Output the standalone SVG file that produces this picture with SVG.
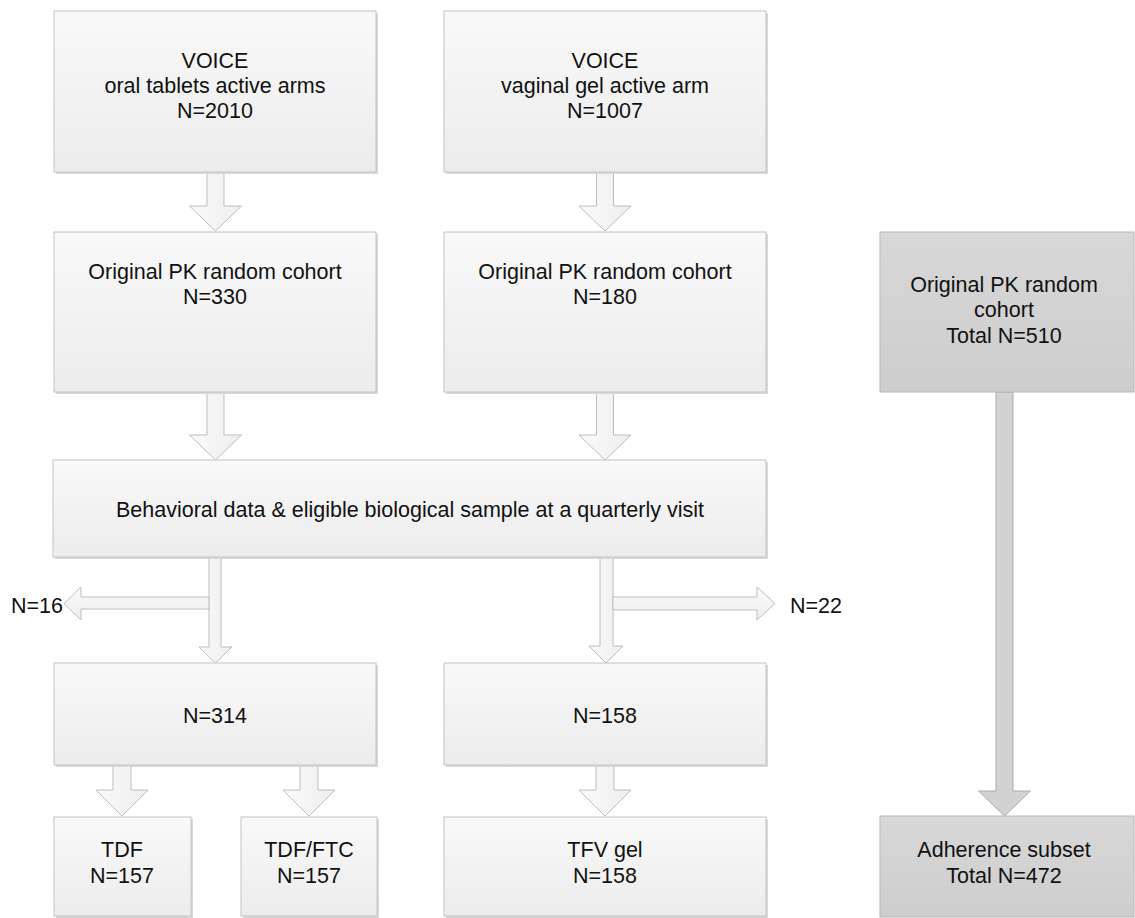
<svg xmlns="http://www.w3.org/2000/svg" width="1135" height="918" viewBox="0 0 1135 918">
<defs>
<linearGradient id="gLight" x1="0" y1="0" x2="0" y2="1">
<stop offset="0" stop-color="#f9f9f9"/>
<stop offset="1" stop-color="#ececec"/>
</linearGradient>
<linearGradient id="gGrey" x1="0" y1="0" x2="0" y2="1">
<stop offset="0" stop-color="#d8d8d8"/>
<stop offset="1" stop-color="#cdcdcd"/>
</linearGradient>
<linearGradient id="gArrow" x1="0" y1="0" x2="1" y2="0">
<stop offset="0" stop-color="#fafafa"/>
<stop offset="1" stop-color="#eeeeee"/>
</linearGradient>
<linearGradient id="gArrowH" x1="0" y1="0" x2="0" y2="1">
<stop offset="0" stop-color="#fafafa"/>
<stop offset="1" stop-color="#eeeeee"/>
</linearGradient>
</defs>
<style>
.box{fill:url(#gLight);stroke:#c4c4c4;stroke-width:1}
.gbox{fill:url(#gGrey);stroke:#b8b8b8;stroke-width:1}
.shadow{fill:#d9d9d9}
.arr{fill:url(#gArrow);stroke:#bdbdbd;stroke-width:1}
.arrh{fill:url(#gArrowH);stroke:#bdbdbd;stroke-width:1}
.garr{fill:#d2d2d2;stroke:#ababab;stroke-width:1}
text{font-family:"Liberation Sans",Arial,sans-serif;font-size:21.5px;fill:#111;text-anchor:middle}
.l{text-anchor:start}
</style>
<rect width="1135" height="918" fill="#ffffff"/>
<g id="connectors">
<polygon class="arr" points="207,172 224,172 224,206 241.5,206 215.5,231 189.5,206 207,206"/>
<polygon class="arr" points="596.5,172 613.5,172 613.5,206 631,206 605,231 579,206 596.5,206"/>
<polygon class="arr" points="207,392 224,392 224,435 241.5,435 215.5,460 189.5,435 207,435"/>
<polygon class="arr" points="596.5,392 613.5,392 613.5,435 631,435 605,460 579,435 596.5,435"/>
<polygon class="arr" points="209,557 221,557 221,647 232,647 215.5,663 199,647 209,647"/>
<polygon class="arrh" points="209,597 209,609 81,609 81,620 64,603.5 81,587 81,597"/>
<polygon class="arr" points="600,557 613,557 613,646 623,646 606,663 589,646 600,646"/>
<polygon class="arrh" points="613,597 757,597 757,587 775,603.5 757,620 757,610 613,610"/>
<polygon class="arr" points="113,765 131,765 131,790 148,790 122,816 96,790 113,790"/>
<polygon class="arr" points="300,765 318,765 318,790 335,790 309,816 283,790 300,790"/>
<polygon class="arr" points="596,765 614,765 614,790 631,790 605,816 579,790 596,790"/>
<polygon class="garr" points="996,392 1013,392 1013,791 1030.5,791 1004.5,816 978.5,791 996,791"/>
</g>
<g id="n1">
<rect class="shadow" x="56" y="13" width="322" height="161"/>
<rect class="box" x="54" y="11" width="322" height="161"/>
<text x="215" y="68">VOICE</text>
<text x="215" y="93">oral tablets active arms</text>
<text x="215" y="118">N=2010</text>
</g>
<g id="n2">
<rect class="shadow" x="446" y="13" width="322" height="161"/>
<rect class="box" x="444" y="11" width="322" height="161"/>
<text x="605" y="68">VOICE</text>
<text x="605" y="93">vaginal gel active arm</text>
<text x="605" y="118">N=1007</text>
</g>
<g id="n3">
<rect class="shadow" x="56" y="234" width="322" height="160"/>
<rect class="box" x="54" y="232" width="322" height="160"/>
<text x="215" y="279">Original PK random cohort</text>
<text x="215" y="304">N=330</text>
</g>
<g id="n4">
<rect class="shadow" x="446" y="234" width="322" height="160"/>
<rect class="box" x="444" y="232" width="322" height="160"/>
<text x="605" y="279">Original PK random cohort</text>
<text x="605" y="304">N=180</text>
</g>
<g id="n5">
<rect class="gbox" x="880" y="232" width="254" height="160"/>
<text x="1004" y="292">Original PK random</text>
<text x="1004" y="317">cohort</text>
<text x="1004" y="343">Total N=510</text>
</g>
<g id="n6">
<rect class="shadow" x="55" y="462" width="713" height="97"/>
<rect class="box" x="53" y="460" width="713" height="97"/>
<text x="410" y="517">Behavioral data &amp; eligible biological sample at a quarterly visit</text>
</g>
<g id="n7">
<text class="l" x="11" y="613">N=16</text>
</g>
<g id="n8">
<text class="l" x="790" y="613">N=22</text>
</g>
<g id="n9">
<rect class="shadow" x="56" y="665" width="322" height="102"/>
<rect class="box" x="54" y="663" width="322" height="102"/>
<text x="215" y="723">N=314</text>
</g>
<g id="n10">
<rect class="shadow" x="446" y="665" width="322" height="102"/>
<rect class="box" x="444" y="663" width="322" height="102"/>
<text x="605" y="723">N=158</text>
</g>
<g id="n11">
<rect class="shadow" x="56" y="819" width="137" height="99"/>
<rect class="box" x="54" y="817" width="137" height="99"/>
<text x="122" y="857">TDF</text>
<text x="122" y="883">N=157</text>
</g>
<g id="n12">
<rect class="shadow" x="243" y="819" width="136" height="99"/>
<rect class="box" x="241" y="817" width="136" height="99"/>
<text x="309" y="857">TDF/FTC</text>
<text x="309" y="883">N=157</text>
</g>
<g id="n13">
<rect class="shadow" x="446" y="819" width="322" height="99"/>
<rect class="box" x="444" y="817" width="322" height="99"/>
<text x="605" y="857">TFV gel</text>
<text x="605" y="883">N=158</text>
</g>
<g id="n14">
<rect class="gbox" x="880" y="816" width="254" height="101"/>
<text x="1004" y="857">Adherence subset</text>
<text x="1004" y="883">Total N=472</text>
</g>
</svg>
